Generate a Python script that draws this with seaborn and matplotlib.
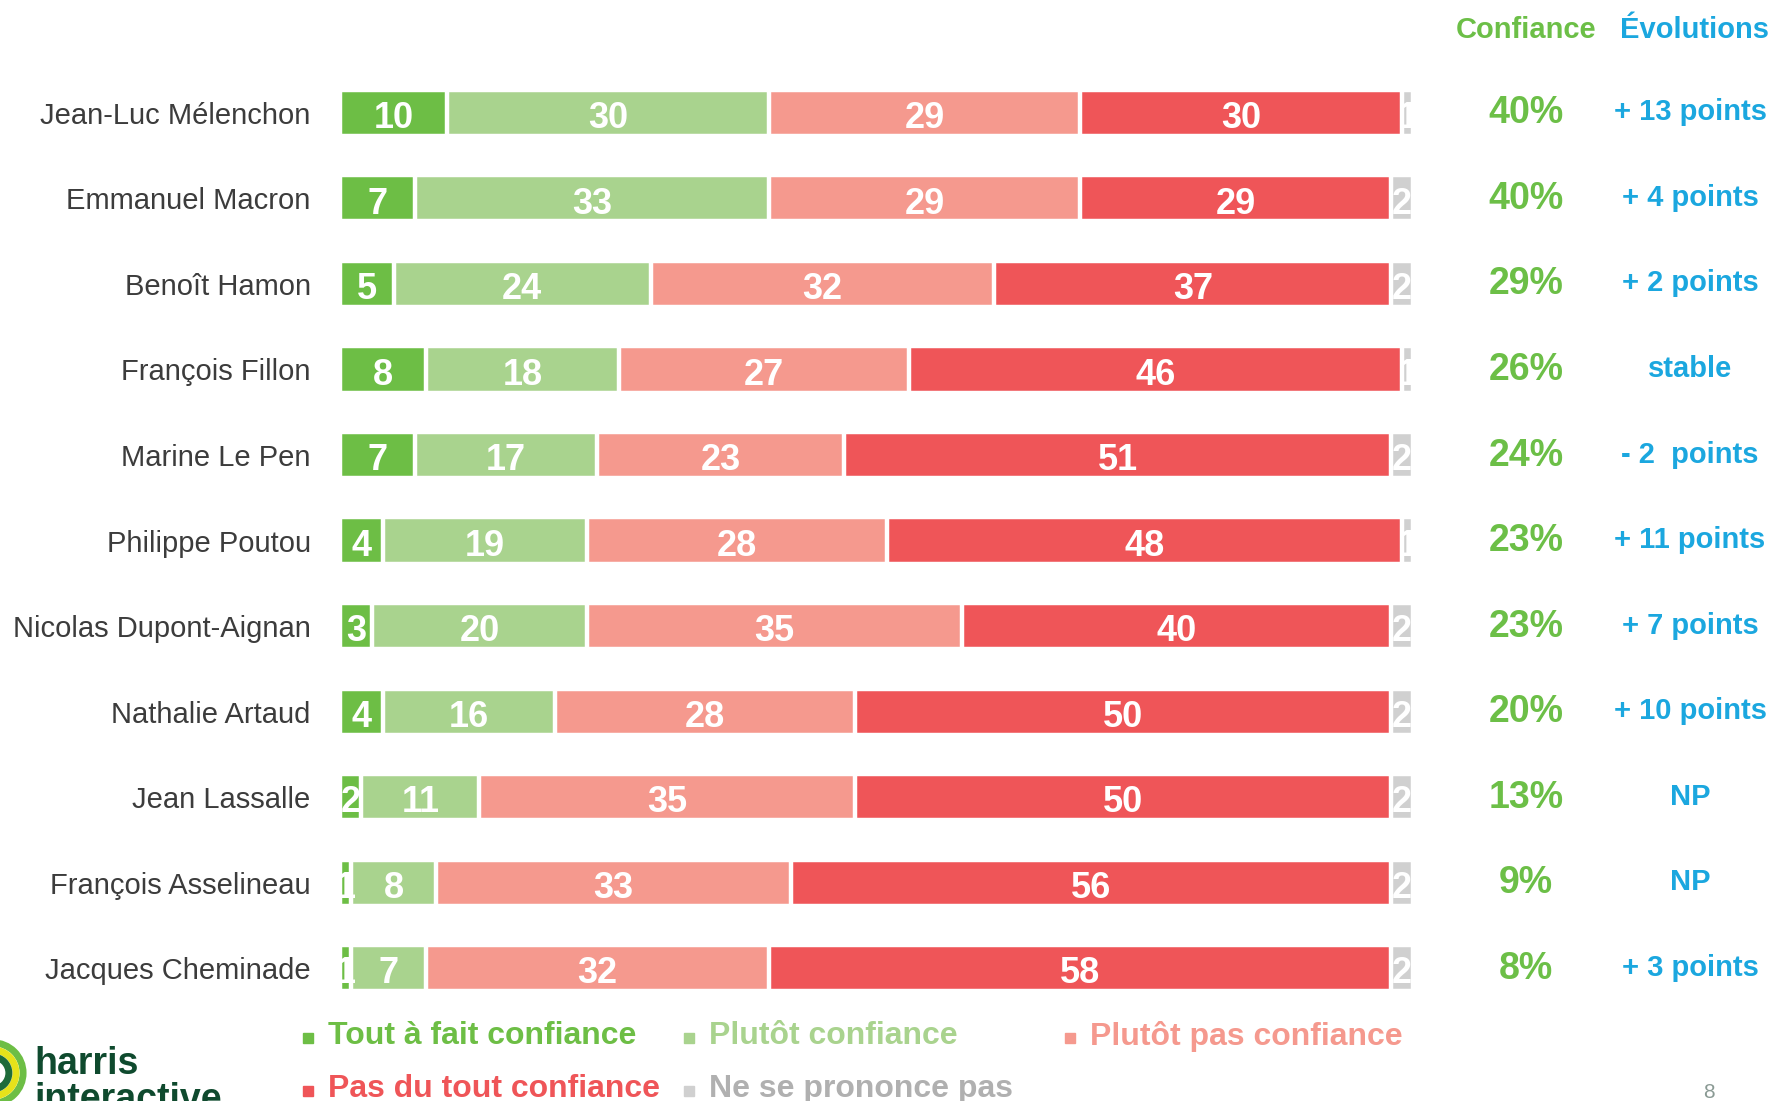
import seaborn as sns
import matplotlib.pyplot as plt
import matplotlib.transforms as mtransforms
from matplotlib.lines import Line2D
from matplotlib.patches import Ellipse
import numpy as np
import pandas as pd

candidates = ["Jean-Luc Mélenchon", "Emmanuel Macron", "Benoît Hamon", "François Fillon",
              "Marine Le Pen", "Philippe Poutou", "Nicolas Dupont-Aignan", "Nathalie Artaud",
              "Jean Lassalle", "François Asselineau", "Jacques Cheminade"]
tout_a_fait = [10, 7, 5, 8, 7, 4, 3, 4, 2, 1, 1]
plutot = [30, 33, 24, 18, 17, 19, 20, 16, 11, 8, 7]
plutot_pas = [29, 29, 32, 27, 23, 28, 35, 28, 35, 33, 32]
pas_du_tout = [30, 29, 37, 46, 51, 48, 40, 50, 50, 56, 58]
nsp = [1, 2, 2, 1, 2, 1, 2, 2, 2, 2, 2]
confiance = ["40%", "40%", "29%", "26%", "24%", "23%", "23%", "20%", "13%", "9%", "8%"]
evolutions = ["+ 13 points", "+ 4 points", "+ 2 points", "stable", "- 2  points", "+ 11 points",
              "+ 7 points", "+ 10 points", "NP", "NP", "+ 3 points"]
legend_labels = ["Tout à fait confiance", "Plutôt confiance", "Plutôt pas confiance",
                 "Pas du tout confiance", "Ne se prononce pas"]

colors = ["#6dbe45", "#a9d38e", "#f5998e", "#ef5558", "#d0d0d0"]
text_colors = ["#6dbe45", "#a9d38e", "#f5998e", "#ef5558", "#b0b0b0"]

sns.set_style("white")
plt.rcParams['font.family'] = ['Liberation Sans', 'DejaVu Sans']

df = pd.DataFrame({
    "candidat": candidates,
    "tout": tout_a_fait,
    "plutot": plutot,
    "plutot_pas": plutot_pas,
    "pas_du_tout": pas_du_tout,
    "nsp": nsp,
})
cols = ["tout", "plutot", "plutot_pas", "pas_du_tout", "nsp"]
cum = df[cols].cumsum(axis=1)

fig = plt.figure(figsize=(17.75, 11.01), dpi=100)
ax = fig.add_axes([0.1915, 0.0817, 0.6045, 0.8547])

# stacked bars: draw the longest cumulative bar first
for i in reversed(range(len(cols))):
    sns.barplot(x=cum[cols[i]], y=df["candidat"], orient="h", color=colors[i],
                saturation=1, width=0.54, edgecolor="white", linewidth=3.2, ax=ax)

# values inside the segments
for i, c in enumerate(cols):
    mids = cum[c] - df[c] / 2
    for row, (m, v) in enumerate(zip(mids, df[c])):
        ax.text(m, row + 0.02, str(v), ha="center", va="center_baseline", color="white",
                fontsize=26, fontweight="bold")

ax.set_xlim(0, 100)
ax.set_ylim(10.5, -0.5)
ax.set_xlabel("")
ax.set_ylabel("")
ax.set_xticks([])
ax.tick_params(axis="y", length=0, pad=21, labelsize=21, labelcolor="#3c3c3c")
sns.despine(ax=ax, left=True, bottom=True)

# right hand columns
trans = mtransforms.blended_transform_factory(fig.transFigure, ax.transData)
for row, (c, e) in enumerate(zip(confiance, evolutions)):
    ax.text(1526 / 1775, row - 0.04, c, transform=trans, ha="center", va="center_baseline",
            color="#6cbf47", fontsize=27, fontweight="bold")
    ax.text(1690 / 1775, row - 0.04, e, transform=trans, ha="center", va="center_baseline",
            color="#1ba7df", fontsize=21, fontweight="bold")

fig.text(1526 / 1775, 1 - 30 / 1101, "Confiance", ha="center", va="center",
         color="#6cbf47", fontsize=21, fontweight="bold")
fig.text(1695 / 1775, 1 - 30 / 1101, "Évolutions", ha="center", va="center",
         color="#1ba7df", fontsize=21, fontweight="bold")

# legend
leg_pos = [(308, 1036), (689, 1036), (1070, 1036), (308, 1089), (689, 1089)]
for (px, py), lab, col, tcol in zip(leg_pos, legend_labels, colors, text_colors):
    fig.add_artist(Line2D([px / 1775], [1 - (py + 2) / 1101], marker="s", markersize=6.5,
                          color=col, linestyle="none", transform=fig.transFigure))
    fig.text((px + 20) / 1775, 1 - py / 1101, lab, ha="left", va="center", color=tcol,
             fontsize=23, fontweight="bold")

# logo
for w, col in [(0.034, "#6dbe45"), (0.026, "#e6e21a"), (0.018, "#1e6b3a")]:
    fig.add_artist(Ellipse((-0.004, 1 - 1073 / 1101), w, w * 1775 / 1101, fill=False,
                           linewidth=5, edgecolor=col, transform=fig.transFigure))
fig.text(34 / 1775, 1 - 1064 / 1101, "harris", ha="left", va="center", color="#0f4a2e",
         fontsize=27, fontweight="bold")
fig.text(34 / 1775, 1 - 1082 / 1101, "interactive", ha="left", va="top", color="#0f4a2e",
         fontsize=27, fontweight="bold")
fig.text(1709 / 1775, 1 - 1093 / 1101, "8", ha="center", va="center", color="#8a9a94",
         fontsize=15)

fig.savefig("out.png", dpi=100)
